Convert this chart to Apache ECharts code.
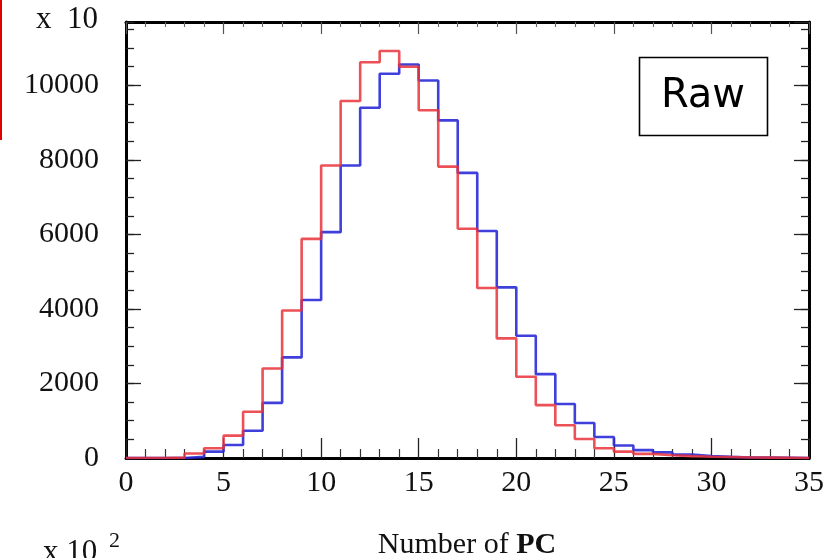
<!DOCTYPE html>
<html>
<head>
<meta charset="utf-8">
<script src="https://cdn.jsdelivr.net/npm/echarts@6/dist/echarts.min.js"></script>
<style>
html,body{margin:0;padding:0;background:#fff;}
#chart{width:837px;height:558px;}
</style>
</head>
<body>
<div id="chart"></div>
<script>
// Bin left edges (bins of width 1, 0..35)
const binStarts = [0,1,2,3,4,5,6,7,8,9,10,11,12,13,14,15,16,17,18,19,20,21,22,23,24,25,26,27,28,29,30,31,32,33,34];
const binEnd = 35;
// Red histogram
const redValues = [0,0,10,120,260,600,1240,2400,3960,5880,7850,9580,10620,10920,10500,9330,7820,6150,4560,3210,2180,1420,880,510,260,170,110,75,50,35,25,15,10,5,0];
// Blue histogram
const blueValues = [0,0,0,30,170,350,730,1480,2700,4240,6060,7850,9400,10310,10560,10130,9060,7650,6090,4580,3280,2250,1450,940,565,335,210,150,90,50,30,15,10,5,0];
const yTicks = [0,2000,4000,6000,8000,10000];
const xTicks = [0,5,10,15,20,25,30,35];

function toSteps(vals){
  const d = binStarts.map((x,i)=>[x, vals[i]]);
  d.push([binEnd, vals[vals.length-1]]);
  return d;
}

const serif = 'Liberation Serif';
const chart = echarts.init(document.getElementById('chart'), null, {renderer:'canvas'});
const yMax = 11700;

function yAx(pos, interval, tickLen, showLabel, showLine){
  return {
    type:'value', position:pos, min:0, max:yMax, interval:interval,
    axisLine:{show:showLine, onZero:false, lineStyle:{color:'#000', width:3}},
    axisTick:{show:true, inside:true, length:tickLen, lineStyle:{color:'#222', width:1.3}},
    axisLabel:{show:showLabel, showMaxLabel:false, fontFamily:serif, fontSize:30, color:'#111', margin:27,
      formatter:function(v){ return yTicks.indexOf(v)>=0 ? String(v) : ''; }},
    splitLine:{show:false}
  };
}

chart.setOption({
  animation:false,
  backgroundColor:'#fff',
  grid:{left:126, right:28, top:22, bottom:100},
  xAxis:[
    {type:'value', position:'bottom', min:0, max:35, interval:5,
      axisLine:{show:true, onZero:false, lineStyle:{color:'#000', width:3}},
      axisTick:{show:true, inside:true, length:20, lineStyle:{color:'#222', width:1.3}},
      minorTick:{show:true, splitNumber:5, length:9, lineStyle:{color:'#333', width:1.2}},
      axisLabel:{fontFamily:serif, fontSize:30, color:'#111', margin:10,
        formatter:function(v){ return xTicks.indexOf(v)>=0 ? String(v) : ''; }},
      splitLine:{show:false}},
    {type:'value', position:'top', min:0, max:35, interval:5,
      axisLine:{show:true, onZero:false, lineStyle:{color:'#000', width:3}},
      axisTick:{show:true, inside:true, length:12, lineStyle:{color:'#555', width:1.2}},
      minorTick:{show:true, splitNumber:5, length:5, lineStyle:{color:'#666', width:1.1}},
      axisLabel:{show:false}, splitLine:{show:false}}
  ],
  yAxis:[
    yAx('left', 2000, 15, true, true),
    yAx('left', 500, 8, false, false),
    yAx('right', 2000, 15, false, true),
    yAx('right', 500, 8, false, false)
  ],
  series:[
    {type:'line', name:'blue', xAxisIndex:0, yAxisIndex:0, step:'end', showSymbol:false, symbol:'none',
      data:toSteps(blueValues), lineStyle:{color:'#2a2ad8', width:2.6, opacity:0.9}, z:3},
    {type:'line', name:'red', xAxisIndex:0, yAxisIndex:0, step:'end', showSymbol:false, symbol:'none',
      data:toSteps(redValues), lineStyle:{color:'#e8323a', width:2.6, opacity:0.85}, z:4}
  ],
  graphic:[
    {type:'rect', left:0, top:0, shape:{width:2, height:140}, style:{fill:'#e00000'}},
    {type:'text', x:98, y:20, style:{text:'x  10', fontFamily:serif, fontSize:31, fill:'#111', align:'right', verticalAlign:'middle'}},
    {type:'text', x:43, y:537, style:{text:'x 10', fontFamily:serif, fontSize:31, fill:'#111', align:'left', verticalAlign:'top'}},
    {type:'text', x:109, y:530, style:{text:'2', fontFamily:serif, fontSize:22, fill:'#111', align:'left', verticalAlign:'top'}},
    {type:'text', x:467, y:530, style:{
      rich:{n:{fontFamily:serif, fontSize:30, fill:'#111'}, b:{fontFamily:serif, fontSize:30, fontWeight:'bold', fill:'#111'}},
      text:'{n|Number of }{b|PC}', align:'center', verticalAlign:'top'}},
    {type:'rect', shape:{x:639.5, y:57.5, width:128, height:78}, style:{fill:'#fff', stroke:'#000', lineWidth:1.6}, z:10},
    {type:'text', x:703, y:97, z:11, style:{text:'Raw', fontFamily:'DejaVu Sans', fontSize:40, fill:'#000', align:'center', verticalAlign:'middle'}}
  ]
});
</script>
</body>
</html>
